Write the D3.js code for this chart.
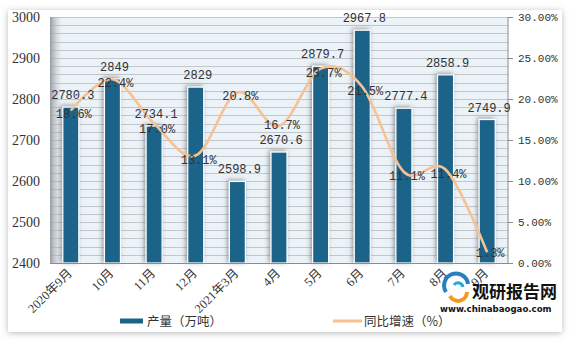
<!DOCTYPE html>
<html><head><meta charset="utf-8">
<script src="https://cdn.jsdelivr.net/npm/d3@7"></script>
<style>
html,body{margin:0;padding:0;background:#fff;}
svg{display:block;}
</style></head>
<body>
<svg id="c" width="578" height="345"></svg>
<script>
const categories = ["2020年9月","10月","11月","12月","2021年3月","4月","5月","6月","7月","8月","9月"];
const production = [2780.3, 2849, 2734.1, 2829, 2598.9, 2670.6, 2879.7, 2967.8, 2777.4, 2858.9, 2749.9];
const growth = [18.6, 22.4, 17.0, 13.1, 20.8, 16.7, 23.7, 21.5, 11.1, 11.4, 1.3];
const leftTicks = [2400, 2500, 2600, 2700, 2800, 2900, 3000];
const rightTicks = [0, 5, 10, 15, 20, 25, 30];
const seriesNames = ["产量（万吨）", "同比增速（%）"];

const svg = d3.select("#c");
const L = 50, R = 508, T = 17, B = 263;

const defs = svg.append("defs");
const fs = defs.append("filter").attr("id","frameShadow").attr("x","-5%").attr("y","-5%").attr("width","110%").attr("height","110%");
fs.append("feDropShadow").attr("dx",0).attr("dy",1).attr("stdDeviation",3).attr("flood-color","#888").attr("flood-opacity",0.6);
const bs = defs.append("filter").attr("id","barShadow").attr("x","-60%").attr("y","-20%").attr("width","220%").attr("height","140%");
bs.append("feDropShadow").attr("dx",-1.5).attr("dy",-1).attr("stdDeviation",2).attr("flood-color","#555").attr("flood-opacity",0.6);
const g1 = defs.append("linearGradient").attr("id","wall").attr("x1",0).attr("x2",1).attr("y1",0).attr("y2",0);
g1.append("stop").attr("offset",0).attr("stop-color","#8e9398").attr("stop-opacity",0.9);
g1.append("stop").attr("offset",1).attr("stop-color","#c8ccd0").attr("stop-opacity",0);

svg.append("rect").attr("x",8).attr("y",10).attr("width",554).attr("height",322)
  .attr("fill","#fff").attr("filter","url(#frameShadow)");

const x = d3.scaleBand().domain(categories).range([L, R]).paddingInner(0).paddingOuter(0);
const yL = d3.scaleLinear().domain([2400, 3000]).range([B, T]);
const yR = d3.scaleLinear().domain([0, 30]).range([B, T]);
const cx = i => x(categories[i]) + x.bandwidth()/2;

svg.append("rect").attr("x",L).attr("y",T).attr("width",R-L).attr("height",B-T).attr("fill","#ebf2f8");
const minor = d3.range(2400, 3001, 20);
svg.append("g").selectAll("line").data(minor).join("line")
  .attr("x1",L).attr("x2",R).attr("y1",d=>Math.round(yL(d))+0.5).attr("y2",d=>Math.round(yL(d))+0.5)
  .attr("stroke","#c3c6ca").attr("stroke-width",1);
svg.append("rect").attr("x",L).attr("y",T).attr("width",12).attr("height",B-T).attr("fill","url(#wall)");

const bw = 16;
svg.append("g").selectAll("rect").data(production).join("rect")
  .attr("x",(d,i)=>cx(i) - bw/2)
  .attr("y",d=>yL(d))
  .attr("width",bw)
  .attr("height",d=>B - yL(d))
  .attr("fill","#1b6489")
  .attr("stroke","#ffffff").attr("stroke-width",1.2)
  .attr("filter","url(#barShadow)");

svg.append("line").attr("x1",L).attr("x2",R).attr("y1",B+0.5).attr("y2",B+0.5).attr("stroke","#8c8c8c");

const axL = d3.axisLeft(yL).tickValues(leftTicks).tickSize(0).tickPadding(10).tickFormat(d3.format("d"));
const gL = svg.append("g").attr("transform",`translate(${L},0)`).call(axL);
gL.select(".domain").remove();
gL.selectAll("text").attr("font-family","Liberation Serif").attr("font-size",14).attr("fill","#333");

const axR = d3.axisRight(yR).tickValues(rightTicks).tickSize(5).tickPadding(5).tickFormat(d=>d3.format(".2f")(d)+"%");
const gR = svg.append("g").attr("transform",`translate(${R},0)`).call(axR);
gR.select(".domain").attr("stroke","#8c8c8c").attr("d",`M0,${T}V${B}`);
gR.selectAll(".tick line").attr("stroke","#8c8c8c");
gR.selectAll("text").attr("font-family","Liberation Mono").attr("font-size",11).attr("fill","#333");

svg.append("g").selectAll("text").data(categories).join("text")
  .attr("transform",(d,i)=>`translate(${cx(i)+2},${B+11}) rotate(-45)`)
  .attr("text-anchor","end")
  .attr("font-family","Liberation Serif, Noto Sans CJK SC")
  .attr("font-size",12.5).attr("fill","#333")
  .text(d=>d);

const line = d3.line()
  .x((d,i)=>cx(i))
  .y(d=>yR(d))
  .curve(d3.curveCardinal.tension(0));
svg.append("path").datum(growth).attr("d",line)
  .attr("fill","none").attr("stroke","#f6c193").attr("stroke-width",2.6);

// label placement with simple collision avoidance
const barBase = production.map(d => yL(d) - 8);
const growBase = growth.map((d,i) => {
  let b = yR(d) + 8;
  const diff = b - barBase[i];
  if (Math.abs(diff) < 15) b = diff >= 0 ? barBase[i] + 15 : barBase[i] - 15;
  return Math.min(b, B - 6);
});

svg.append("g").selectAll("text").data(production).join("text")
  .attr("x",(d,i)=>cx(i) + 2)
  .attr("y",(d,i)=>barBase[i])
  .attr("text-anchor","middle")
  .attr("font-family","Liberation Mono").attr("font-size",12).attr("fill","#333")
  .text(d=>String(d));

svg.append("g").selectAll("text").data(growth).join("text")
  .attr("x",(d,i)=>cx(i) + 3)
  .attr("y",(d,i)=>growBase[i])
  .attr("text-anchor","middle")
  .attr("font-family","Liberation Mono").attr("font-size",12).attr("fill","#333")
  .text(d=>d.toFixed(1)+"%");

const lg = svg.append("g");
lg.append("rect").attr("x",120).attr("y",318.5).attr("width",23).attr("height",5).attr("fill","#1b6489");
lg.append("text").attr("x",147).attr("y",326).attr("font-family","Noto Sans CJK SC").attr("font-size",12.5).attr("fill","#333").text(seriesNames[0]);
lg.append("line").attr("x1",333).attr("x2",362).attr("y1",321).attr("y2",321).attr("stroke","#f6c193").attr("stroke-width",3);
lg.append("text").attr("x",364).attr("y",326).attr("font-family","Noto Sans CJK SC").attr("font-size",12.5).attr("fill","#333").text(seriesNames[1]);

const wm = svg.append("g");
wm.append("path").attr("d","M446,292 a12,12 0 1 1 22,-8").attr("fill","none").attr("stroke","#2a7fc0").attr("stroke-width",4);
wm.append("path").attr("d","M450,296 a9,9 0 0 0 17,-4").attr("fill","none").attr("stroke","#f39a1e").attr("stroke-width",4);
wm.append("path").attr("d","M454,285 a5,5 0 0 1 9,2").attr("fill","none").attr("stroke","#2aa7d8").attr("stroke-width",3);
wm.append("text").attr("x",472).attr("y",298).attr("font-family","Noto Sans CJK SC").attr("font-weight","bold").attr("font-size",17).attr("fill","#111").text("观研报告网");
wm.append("text").attr("x",440).attr("y",312).attr("font-family","DejaVu Sans").attr("font-weight","bold").attr("font-size",8.6).attr("fill","#111").text("www.chinabaogao.com");
</script>
</body></html>
